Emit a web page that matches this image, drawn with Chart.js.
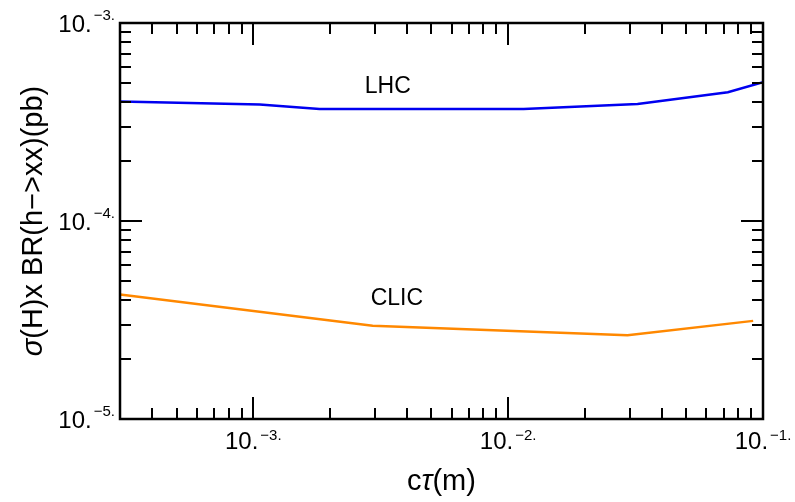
<!DOCTYPE html>
<html>
<head>
<meta charset="utf-8">
<script src="https://cdn.jsdelivr.net/npm/chart.js@4"></script>
<style>
body { margin: 0; background: #fff; }
#wrap { width: 795px; height: 502px; }
</style>
</head>
<body>
<div id="wrap"><canvas id="ctau-chart"></canvas></div>
<script>
// values: c*tau in m, sigma(H) x BR in pb
const lhcCtau = [3.0e-4, 1.06e-3, 1.82e-3, 1.15e-2, 3.22e-2, 7.28e-2, 1.0e-1];
const lhcXsec = [4.01e-4, 3.88e-4, 3.68e-4, 3.68e-4, 3.90e-4, 4.47e-4, 5.03e-4];
const clicCtau = [3.0e-4, 2.94e-3, 2.94e-2, 9.15e-2];
const clicXsec = [4.25e-5, 2.96e-5, 2.65e-5, 3.13e-5];

// text labels next to the curves (data coords)
const seriesNames = ["LHC", "CLIC"];
const seriesLabelX = [3.37e-3, 3.66e-3];
const seriesLabelY = [4.75e-4, 4.04e-5];

// axis ticks, mathematica style "10.^-3."
const xMajor = [1e-3, 1e-2, 1e-1];
const xExp = ["\u22123.", "\u22122.", "\u22121."];
const yMajor = [1e-5, 1e-4, 1e-3];
const yExp = ["\u22125.", "\u22124.", "\u22123."];

const X_MIN = 3e-4, X_MAX = 1e-1;
const Y_MIN = 1e-5, Y_MAX = 1e-3;

const FONT = "'Liberation Sans', Arial, sans-serif";
const toPoints = (xs, ys) => xs.map((v, i) => ({ x: v, y: ys[i] }));

// draw text made of pieces, each with own font
const drawPieces = (ctx, pieces, x, y) => {
  let w = 0;
  pieces.forEach(p => { ctx.font = p.font; p.w = ctx.measureText(p.text).width; w += p.w; });
  let cx = x - w / 2;
  pieces.forEach(p => {
    ctx.font = p.font;
    ctx.fillText(p.text, cx, y);
    cx += p.w;
  });
};

const frameAndTicks = {
  id: "frameAndTicks",
  afterDatasetsDraw(chart) {
    const { ctx, chartArea: a, scales: { x, y } } = chart;
    ctx.save();
    ctx.strokeStyle = "#000";
    ctx.fillStyle = "#000";

    // ticks, inward on all four sides
    ctx.lineWidth = 2;
    ctx.beginPath();
    for (let d = -4; d <= -1; d++) {
      for (let k = 1; k <= 9; k++) {
        const v = k * Math.pow(10, d);
        if (v < X_MIN * 0.999 || v > X_MAX * 1.001) continue;
        const px = Math.round(x.getPixelForValue(v));
        const len = k === 1 ? 22 : 11;
        ctx.moveTo(px, a.bottom); ctx.lineTo(px, a.bottom - len);
        ctx.moveTo(px, a.top); ctx.lineTo(px, a.top + len);
      }
    }
    for (let d = -5; d <= -3; d++) {
      for (let k = 1; k <= 9; k++) {
        const v = k * Math.pow(10, d);
        if (v < Y_MIN * 0.999 || v > Y_MAX * 1.001) continue;
        const py = Math.round(y.getPixelForValue(v));
        const len = k === 1 ? 22 : 11;
        ctx.moveTo(a.left, py); ctx.lineTo(a.left + len, py);
        ctx.moveTo(a.right, py); ctx.lineTo(a.right - len, py);
      }
    }
    ctx.stroke();

    // frame
    ctx.lineWidth = 2.5;
    ctx.strokeRect(a.left, a.top, a.right - a.left, a.bottom - a.top);

    // tick labels
    const big = "24px " + FONT, small = "15px " + FONT;
    ctx.textBaseline = "alphabetic";
    ctx.textAlign = "left";
    xMajor.forEach((v, i) => {
      const px = x.getPixelForValue(v);
      ctx.font = big; const w1 = ctx.measureText("10.").width;
      ctx.font = small; const w2 = ctx.measureText(xExp[i]).width;
      const left = px - (w1 + w2 + 2) / 2;
      ctx.font = big; ctx.fillText("10.", left, a.bottom + 30);
      ctx.font = small; ctx.fillText(xExp[i], left + w1 + 2, a.bottom + 21);
    });
    yMajor.forEach((v, i) => {
      const py = y.getPixelForValue(v);
      ctx.font = small; const w2 = ctx.measureText(yExp[i]).width;
      ctx.font = big; const w1 = ctx.measureText("10.").width;
      const right = a.left - 5;
      ctx.fillText("10.", right - w2 - 2 - w1, py + 9);
      ctx.font = small; ctx.fillText(yExp[i], right - w2, py - 3);
    });

    // curve names
    ctx.font = "23px " + FONT;
    ctx.textAlign = "center";
    ctx.textBaseline = "middle";
    seriesNames.forEach((n, i) => {
      ctx.fillText(n, x.getPixelForValue(seriesLabelX[i]), y.getPixelForValue(seriesLabelY[i]));
    });

    // axis titles
    ctx.textAlign = "left";
    ctx.textBaseline = "alphabetic";
    const tn = "29px " + FONT, ti = "italic 29px " + FONT;
    drawPieces(ctx, [{ text: "c", font: tn }, { text: "\u03c4", font: ti }, { text: "(m)", font: tn }],
      (a.left + a.right) / 2, 490);
    ctx.translate(42, (a.top + a.bottom) / 2);
    ctx.rotate(-Math.PI / 2);
    ctx.font = tn;
    drawPieces(ctx, [{ text: "\u03c3", font: ti }, { text: "(H)x BR(h\u2212>xx)(pb)", font: tn }], 0, 0);
    ctx.restore();
  }
};

const config = {
  type: "line",
  data: {
    datasets: [
      {
        label: "LHC",
        data: toPoints(lhcCtau, lhcXsec),
        borderColor: "rgb(0, 0, 240)",
        borderWidth: 2.5,
        pointRadius: 0,
        tension: 0,
      },
      {
        label: "CLIC",
        data: toPoints(clicCtau, clicXsec),
        borderColor: "rgb(255, 136, 0)",
        borderWidth: 2.5,
        pointRadius: 0,
        tension: 0,
      },
    ],
  },
  options: {
    responsive: true,
    maintainAspectRatio: false,
    animation: false,
    layout: { padding: { left: 120, right: 32, top: 23, bottom: 83 } },
    plugins: { legend: { display: false }, tooltip: { enabled: false } },
    scales: {
      x: { type: "logarithmic", min: X_MIN, max: X_MAX, display: false },
      y: { type: "logarithmic", min: Y_MIN, max: Y_MAX, display: false },
    },
  },
  plugins: [frameAndTicks],
};

const myChart = new Chart(document.getElementById("ctau-chart"), config);
</script>
</body>
</html>
